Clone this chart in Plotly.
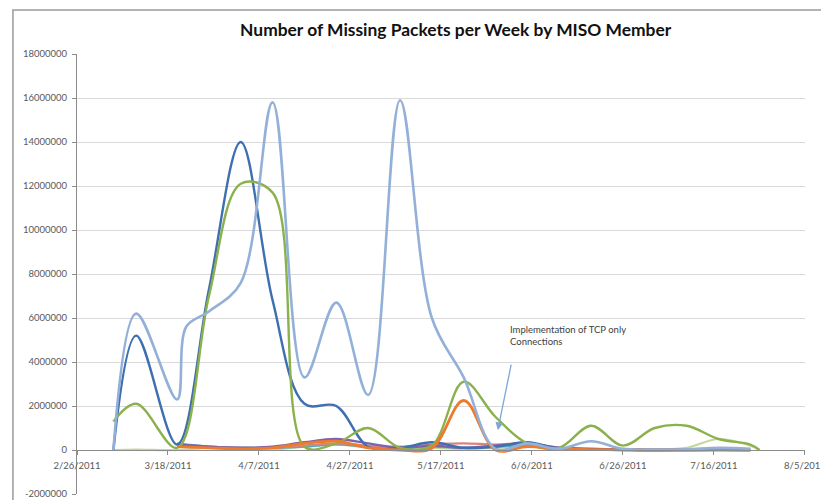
import plotly.graph_objects as go

TITLE = "Number of Missing Packets per Week by MISO Member"

# x-axis ticks
tick_dates = ["2011-02-26", "2011-03-18", "2011-04-07", "2011-04-27", "2011-05-17",
              "2011-06-06", "2011-06-26", "2011-07-16", "2011-08-05"]
tick_labels = ["2/26/2011", "3/18/2011", "4/7/2011", "4/27/2011", "5/17/2011",
               "6/6/2011", "6/26/2011", "7/16/2011", "8/5/2011"]
y_ticks = [-2000000, 0, 2000000, 4000000, 6000000, 8000000, 10000000,
           12000000, 14000000, 16000000, 18000000]

# Weekly dates (weekly reporting, some irregular early points)
dates_main = ["2011-03-06", "2011-03-11", "2011-03-20", "2011-03-27", "2011-04-03",
              "2011-04-10", "2011-04-17", "2011-04-24", "2011-05-01", "2011-05-08",
              "2011-05-15", "2011-05-22", "2011-05-29", "2011-06-05", "2011-06-12",
              "2011-06-19", "2011-06-26", "2011-07-03", "2011-07-10", "2011-07-17",
              "2011-07-24"]
dates_light = ["2011-03-06", "2011-03-11", "2011-03-20", "2011-03-22", "2011-03-27",
               "2011-04-03", "2011-04-10", "2011-04-17", "2011-04-24", "2011-05-01",
               "2011-05-08", "2011-05-15", "2011-05-22", "2011-05-29", "2011-06-05",
               "2011-06-12", "2011-06-19", "2011-06-26", "2011-07-03", "2011-07-10",
               "2011-07-17", "2011-07-24"]
dates_late = ["2011-03-20", "2011-03-27", "2011-04-03", "2011-04-10", "2011-04-17",
              "2011-04-24", "2011-05-01", "2011-05-08", "2011-05-15", "2011-05-22",
              "2011-05-29", "2011-06-05", "2011-06-12", "2011-06-19", "2011-06-26",
              "2011-07-03", "2011-07-10", "2011-07-17", "2011-07-24"]
dates_green = dates_main + ["2011-07-26"]
dates_lg = dates_main + ["2011-07-26"]

member_dark_blue = [0, 5200000, 250000, 7300000, 14000000, 6800000, 2100000, 2000000,
                    150000, 100000, 350000, 100000, 150000, 350000, 50000, 20000,
                    0, 0, 0, 0, 0]
member_light_blue = [0, 6200000, 2300000, 5600000, 6300000, 7600000, 15800000, 3300000,
                     6700000, 2500000, 15900000, 6000000, 3300000, 50000, 300000, 50000,
                     400000, 50000, 20000, 30000, 100000, 50000]
member_green = [1300000, 2100000, 100000, 7000000, 12100000, 11700000, 150000, 300000,
                1000000, 100000, 200000, 3100000, 1500000, 300000, 100000, 1100000,
                200000, 1000000, 1100000, 500000, 250000, 0]
member_purple = [250000, 150000, 100000, 150000, 350000, 500000, 300000, 100000,
                 200000, 100000, 200000, 300000, 100000, 50000, 20000, 10000, 10000,
                 10000, 0]
member_orange = [150000, 100000, 50000, 100000, 300000, 400000, 100000, 0, 80000,
                 2250000, 0, 150000, 50000, 20000, 10000, 10000, 10000, 10000, 0]
member_red = [200000, 150000, 100000, 100000, 200000, 300000, 200000, 150000, 250000,
              300000, 250000, 300000, 100000, 20000, 0, -30000, -20000, 0, 0]
member_teal = [300000, 150000, 100000, 100000, 150000, 250000, 150000, 100000, 150000,
               100000, 150000, 200000, 100000, 50000, 20000, 10000, 20000, 50000, 0]
member_light_green = [0, 20000, 0, 100000, 50000, 30000, 150000, 250000, 100000, 50000,
                      100000, 50000, 100000, 150000, 50000, 50000, 30000, 30000, 100000,
                      500000, 200000, 0]

series = [
    ("Member H", dates_lg, member_light_green, "#C4D79B", 2.2),
    ("Member F", dates_late, member_teal, "#4BACC6", 2.2),
    ("Member E", dates_late, member_red, "#D9837F", 2.2),
    ("Member D", dates_late, member_purple, "#7F63A8", 2.4),
    ("Member A", dates_main, member_dark_blue, "#3E6FB0", 2.4),
    ("Member C", dates_green, member_green, "#8AB14C", 2.4),
    ("Member G", dates_late, member_orange, "#EE7A2E", 2.8),
    ("Member B", dates_light, member_light_blue, "#93B1D8", 2.6),
]

fig = go.Figure()
for name, xs, ys, color, w in series:
    fig.add_trace(go.Scatter(x=xs, y=ys, mode="lines", name=name,
                             line=dict(color=color, width=w, shape="spline", smoothing=1.0),
                             showlegend=False))

fig.update_layout(
    width=821, height=500,
    margin=dict(l=77, r=16, t=54, b=6, autoexpand=False),
    paper_bgcolor="white", plot_bgcolor="white",
    font=dict(family="Lato, sans-serif", color="#595959"),
    title=dict(text="<b>" + TITLE + "</b>", x=0.555, xanchor="center",
               yref="container", y=0.94, yanchor="middle",
               font=dict(size=17.4, color="#111111", family="Lato, sans-serif")),
    xaxis=dict(type="date", range=["2011-02-26", "2011-08-05 00:30"],
               tickvals=tick_dates, ticktext=tick_labels, automargin=False,
               ticklabeloverflow="allow", ticklabelstandoff=3,
               anchor="free", position=0.1, showgrid=False, zeroline=False,
               showline=True, linecolor="#8c8c8c", linewidth=1,
               ticks="outside", ticklen=4, tickcolor="#8c8c8c",
               tickfont=dict(size=9.5, color="#595959")),
    yaxis=dict(range=[-2000000, 18000000], tickvals=y_ticks, automargin=False,
               ticktext=[str(v) for v in y_ticks], ticklabeloverflow="allow",
               ticklabelstandoff=3,
               showgrid=True, gridcolor="#D9D9D9", gridwidth=1.3, zeroline=False,
               showline=True, linecolor="#8c8c8c", linewidth=1,
               ticks="outside", ticklen=4, tickcolor="#8c8c8c",
               tickfont=dict(size=9.5, color="#595959")),
)

# chart frame
fig.add_shape(type="rect", xref="paper", yref="paper", x0=-0.088, x1=1.04, y0=-0.05, y1=1.1,
              line=dict(color="#9A9A9A", width=1.5), layer="below")

# annotation text and arrow
fig.add_annotation(xref="paper", yref="paper", x=0.592, y=0.33, xanchor="left", yanchor="bottom",
                   text="Implementation of TCP only<br>Connections", showarrow=False, align="left",
                   font=dict(size=9.5, color="#404040", family="Lato, sans-serif"))
fig.add_annotation(x="2011-05-29 12:00", y=900000, ax="2011-06-01 12:00", ay=3950000,
                   axref="x", ayref="y", text="", showarrow=True, arrowhead=2, arrowsize=1.2,
                   arrowwidth=1.3, arrowcolor="#7EA6D6")

fig.write_html("out.html", config={"displayModeBar": False},
               post_script="document.body.style.margin='0';document.body.style.overflow='hidden';")
